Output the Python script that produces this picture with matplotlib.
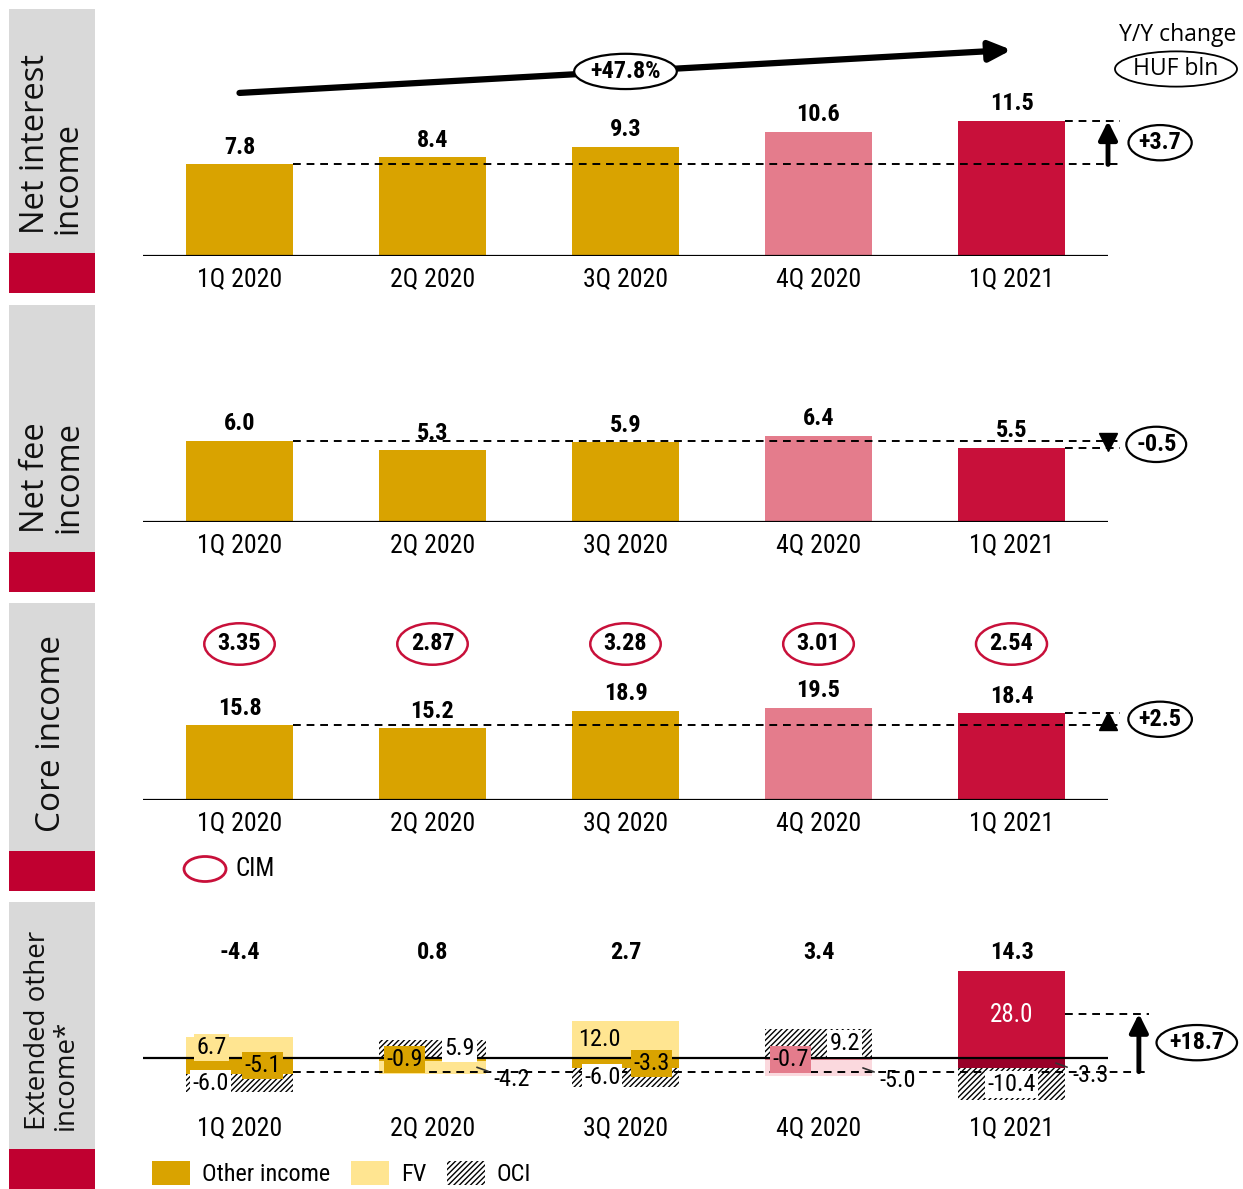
import numpy as np
import matplotlib
matplotlib.use('Agg')
import matplotlib.pyplot as plt
import matplotlib.transforms as mtransforms
from matplotlib import font_manager
from matplotlib.patches import Rectangle, Ellipse, Patch

# data (HUF bln)
quarters = ['1Q 2020', '2Q 2020', '3Q 2020', '4Q 2020', '1Q 2021']
net_interest = [7.8, 8.4, 9.3, 10.6, 11.5]
net_fee = [6.0, 5.3, 5.9, 6.4, 5.5]
core_income = [15.8, 15.2, 18.9, 19.5, 18.4]
cim = [3.35, 2.87, 3.28, 3.01, 2.54]
other_income = [-5.1, -0.9, -3.3, -0.7, 28.0]
fv = [6.7, -4.2, 12.0, -5.0, -3.3]
oci = [-6.0, 5.9, -6.0, 9.2, -10.4]
ext_total = [-4.4, 0.8, 2.7, 3.4, 14.3]
yoy_change = ['+3.7', '-0.5', '+2.5', '+18.7']
nii_growth = '+47.8%'

# colours
GOLD = '#D9A300'
YELLOW = '#FFE591'
PINK = '#E47C8C'
LIGHT_PINK = '#FBD9DE'
CRIMSON = '#C8103A'
DARK_RED = '#980028'
SIDE_RED = '#C00030'
GRAY = '#D9D9D9'
main_colors = [GOLD, GOLD, GOLD, PINK, CRIMSON]
fv_colors = [YELLOW, YELLOW, YELLOW, LIGHT_PINK, DARK_RED]

# pick a narrow sans font if one is installed
entries = font_manager.fontManager.ttflist
narrow_name = None
stretch = 'normal'
for want in ['Liberation Sans Narrow', 'Arial Narrow', 'Roboto Condensed',
             'DejaVu Sans Condensed', 'Open Sans Condensed']:
    if any(f.name == want for f in entries):
        narrow_name = want
        break
if narrow_name is None:
    for f in entries:
        if 'Narrow' in f.name or 'Condensed' in f.name:
            narrow_name = f.name
            break
if narrow_name is None:
    for f in entries:
        if f.stretch in ('condensed', 'semi-condensed') and f.name in ('DejaVu Sans', 'Roboto', 'Open Sans'):
            narrow_name = f.name
            stretch = 'condensed'
            break
if narrow_name is None:
    narrow_name = 'Roboto'

NARROW = [narrow_name, 'DejaVu Sans']
SANS = ['Open Sans', 'DejaVu Sans']
plt.rcParams['font.family'] = NARROW
plt.rcParams['font.stretch'] = stretch
plt.rcParams['hatch.linewidth'] = 1.0

W, H = 1243, 1189
fig = plt.figure(figsize=(W / 100, H / 100), dpi=100)


def px_axes(left, top, right, bottom):
    return fig.add_axes([left / W, 1 - bottom / H, (right - left) / W, (bottom - top) / H])


# background overlay in pixel coordinates (side labels, legends)
ov = px_axes(0, 0, W, H)
ov.set_xlim(0, W)
ov.set_ylim(H, 0)
ov.axis('off')

side = [(9, 253, 'Net interest\nincome', 23.5),
        (305, 552, 'Net fee\nincome', 23.5),
        (603, 851, 'Core income', 24),
        (902, 1149, 'Extended other\nincome*', 20)]
for top, red_top, label, fs in side:
    ov.add_patch(Rectangle((9, top), 86, red_top - top, color=GRAY, lw=0))
    ov.add_patch(Rectangle((9, red_top), 86, 40, color=SIDE_RED, lw=0))
    ov.text(52, red_top - 19, label, rotation=90, ha='center', va='bottom',
            multialignment='left', fontsize=fs, family=SANS, linespacing=1.0,
            color='#111111')

ov.text(1178, 35, 'Y/Y change', ha='center', va='center', fontsize=16.5, family=SANS)
ov.text(1176, 69, 'HUF bln', ha='center', va='center', fontsize=16.5, family=SANS,
        bbox=dict(boxstyle='ellipse,pad=0.02', fc='white', ec='black', lw=1.3))

# CIM legend
ov.add_patch(Ellipse((205, 869), 42, 25, fc='none', ec=CRIMSON, lw=2))
ov.text(236, 869, 'CIM', ha='left', va='center', fontsize=18)

X_LEFT, X_RIGHT = 143, 1243
STEP = 193
BAR_W = 107 / STEP
x = np.arange(len(quarters))


def make_panel(top, base, ppu, bottom=None):
    bottom = base if bottom is None else bottom
    ax = px_axes(X_LEFT, top, X_RIGHT, bottom)
    ax.set_facecolor('none')
    ax.set_xlim(-0.5, (X_RIGHT - X_LEFT) / STEP - 0.5)
    ax.set_ylim(-(bottom - base) / ppu, (base - top) / ppu)
    for s in ax.spines.values():
        s.set_visible(False)
    ax.set_yticks([])
    ax.set_xticks(x, quarters)
    ax.tick_params(axis='x', length=0, labelsize=18.5, pad=8)
    ax.hlines(0, -0.5, 4.5, color='black', lw=1.6, zorder=4)
    return ax


def value_labels(ax, vals):
    for i, v in enumerate(vals):
        ax.annotate(f'{v:.1f}', (i, v), xytext=(0, 4), textcoords='offset points',
                    ha='center', va='bottom', fontsize=17.5, fontweight='bold')


def oval(ax, xpos, ypos, text):
    ax.text(xpos, ypos, text, ha='center', va='center', fontsize=17.5,
            fontweight='bold', zorder=6,
            bbox=dict(boxstyle='ellipse,pad=0.04', fc='white', ec='black', lw=1.6))


DASH = (0, (4, 3))

# --- Net interest income ---
ax1 = make_panel(0, 256, 11.74)
ax1.bar(x, net_interest, width=BAR_W, color=main_colors)
value_labels(ax1, net_interest)
ax1.hlines(net_interest[0], BAR_W / 2, 4.56, color='black', lw=1.4, linestyles=DASH)
ax1.hlines(net_interest[-1], 4 + BAR_W / 2, 4.56, color='black', lw=1.4, linestyles=DASH)
ax1.annotate('', xy=(4.5, net_interest[-1]), xytext=(4.5, net_interest[0]),
             arrowprops=dict(arrowstyle='-|>,head_length=1.1,head_width=0.55',
                             lw=3.5, color='black', shrinkA=0, shrinkB=0))
oval(ax1, 4.77, (net_interest[0] + net_interest[-1]) / 2, yoy_change[0])
blend1 = mtransforms.blended_transform_factory(ax1.transData, ax1.transAxes)
ax1.annotate('', xy=(4, 0.805), xytext=(0, 0.637), xycoords=blend1, textcoords=blend1,
             arrowprops=dict(arrowstyle='-|>,head_length=1.3,head_width=0.6',
                             lw=4.5, color='black', shrinkA=0, shrinkB=0))
ax1.text(2, 0.721, nii_growth, transform=blend1, ha='center', va='center',
         fontsize=17.5, fontweight='bold', zorder=6,
         bbox=dict(boxstyle='ellipse,pad=0.04', fc='white', ec='black', lw=1.6))

# --- Net fee income ---
ax2 = make_panel(300, 522, 13.5)
ax2.bar(x, net_fee, width=BAR_W, color=main_colors)
value_labels(ax2, net_fee)
ax2.hlines(net_fee[0], BAR_W / 2, 4.56, color='black', lw=1.4, linestyles=DASH)
ax2.hlines(net_fee[-1], 4 + BAR_W / 2, 4.56, color='black', lw=1.4, linestyles=DASH)
ax2.plot(4.5, (net_fee[0] + net_fee[-1]) / 2 + 0.15, marker='v', ms=13, color='black')
oval(ax2, 4.75, (net_fee[0] + net_fee[-1]) / 2, yoy_change[1])

# --- Core income ---
ax3 = make_panel(600, 800, 4.72)
ax3.bar(x, core_income, width=BAR_W, color=main_colors)
value_labels(ax3, core_income)
ax3.hlines(core_income[0], BAR_W / 2, 4.56, color='black', lw=1.4, linestyles=DASH)
ax3.hlines(core_income[-1], 4 + BAR_W / 2, 4.56, color='black', lw=1.4, linestyles=DASH)
ax3.plot(4.5, (core_income[0] + core_income[-1]) / 2 - 0.3, marker='^', ms=13, color='black')
oval(ax3, 4.77, (core_income[0] + core_income[-1]) / 2, yoy_change[2])
blend3 = mtransforms.blended_transform_factory(ax3.transData, ax3.transAxes)
for i, c in enumerate(cim):
    ax3.text(i, 0.78, f'{c:.2f}', transform=blend3, ha='center', va='center',
             fontsize=17.5, fontweight='bold',
             bbox=dict(boxstyle='ellipse,pad=0.13', fc='white', ec=CRIMSON, lw=1.8))

# --- Extended other income ---
ax4 = make_panel(890, 1058, 3.1, bottom=1105)
blend4 = mtransforms.blended_transform_factory(ax4.transData, ax4.transAxes)

other_dx = [0.12, -0.145, 0.135, -0.145, 0.0]
fv_dx = [-0.145, 0.0, -0.135, 0.0, 0.0]
oci_dx = [-0.15, 0.14, -0.12, 0.135, 0.0]

pos = np.zeros(len(x))
neg = np.zeros(len(x))
components = [
    (np.array(other_income), main_colors, None, other_dx),
    (np.array(fv), fv_colors, None, fv_dx),
    (np.array(oci), ['white'] * 5, '//////', oci_dx),
]
for ci, (vals, cols, hatch, dx) in enumerate(components):
    bottoms = np.where(vals >= 0, pos, neg)
    if hatch:
        ax4.bar(x, vals, bottom=bottoms, width=BAR_W, color=cols, edgecolor='black',
                hatch=hatch, lw=0, zorder=2)
    else:
        ax4.bar(x, vals, bottom=bottoms, width=BAR_W, color=cols, lw=0, zorder=2)
    mids = bottoms + vals / 2
    for i, v in enumerate(vals):
        txt = f'{v:.1f}'
        if ci == 1 and v < 0:
            ax4.annotate(txt, xy=(i + 0.23, mids[i]), xytext=(12, -9),
                         textcoords='offset points', ha='left', va='center',
                         fontsize=17.5, zorder=5,
                         arrowprops=dict(arrowstyle='-', lw=1.2, color='#333333',
                                         shrinkA=2, shrinkB=0))
        elif ci == 0 and i == 4:
            ax4.text(i + dx[i], mids[i], txt, ha='center', va='center',
                     fontsize=18, color='white', zorder=5)
        else:
            ax4.text(i + dx[i], mids[i], txt, ha='center', va='center',
                     fontsize=17.5, zorder=5,
                     bbox=dict(boxstyle='square,pad=0.08', fc=cols[i], ec='none'))
    pos = np.where(vals >= 0, pos + vals, pos)
    neg = np.where(vals < 0, neg + vals, neg)

for i, t in enumerate(ext_total):
    ax4.text(i, 0.71, f'{t:.1f}', transform=blend4, ha='center', va='center',
             fontsize=17.5, fontweight='bold')

ax4.hlines(ext_total[0], BAR_W / 2, 4.715, color='black', lw=1.4, linestyles=DASH, zorder=3)
ax4.hlines(ext_total[-1], 4 + BAR_W / 2, 4.715, color='black', lw=1.4, linestyles=DASH, zorder=3)
ax4.annotate('', xy=(4.66, ext_total[-1]), xytext=(4.66, ext_total[0]),
             arrowprops=dict(arrowstyle='-|>,head_length=1.1,head_width=0.55',
                             lw=3.5, color='black', shrinkA=0, shrinkB=0))
oval(ax4, 4.96, (ext_total[0] + ext_total[-1]) / 2, yoy_change[3])

handles = [Patch(facecolor=GOLD), Patch(facecolor=YELLOW),
           Patch(facecolor='white', edgecolor='black', hatch='//////', lw=0)]
fig.legend(handles, ['Other income', 'FV', 'OCI'], loc='lower left',
           bbox_to_anchor=(147 / W, -2 / H), borderaxespad=0, ncol=3, frameon=False,
           fontsize=17.5, handlelength=1.56, handleheight=1.15, handletextpad=0.5,
           columnspacing=0.85, borderpad=0.2)

fig.savefig('out.png', dpi=100)
